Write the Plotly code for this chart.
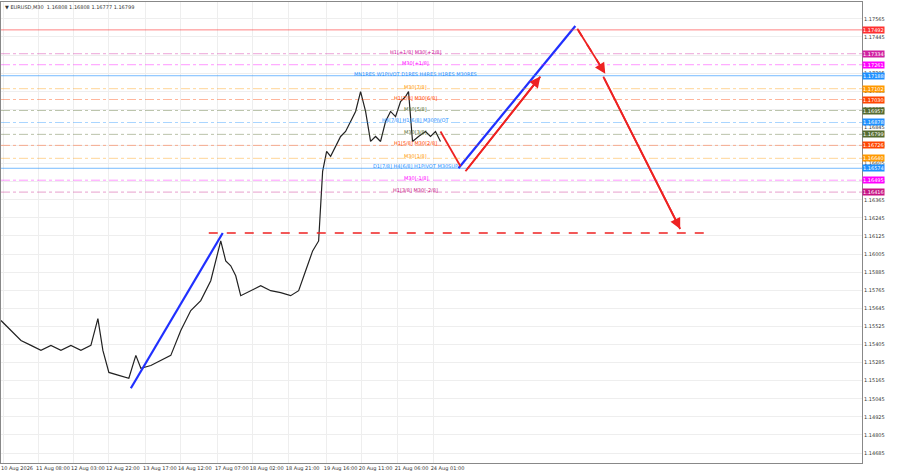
import numpy as np
import plotly.graph_objects as go

# price path (bar index, price)
bars = [0, 10, 20, 30, 40, 50, 60, 70, 80, 90, 97, 102, 108, 118, 128, 135, 140, 150, 160, 170,
        180, 190, 200, 210, 220, 225, 230, 235, 240, 250, 260, 270, 280, 290, 298, 305, 312, 318,
        322, 326, 330, 340, 345, 350, 355, 360, 365, 370, 375, 380, 385, 390, 395, 400, 405, 408,
        412, 418, 425, 430, 435, 440]
close = [1.15564, 1.15498, 1.15432, 1.15399, 1.15366, 1.15399, 1.15366, 1.15399, 1.15366, 1.15399,
         1.15577, 1.15366, 1.15220, 1.15200, 1.15181, 1.15333, 1.15247, 1.15266, 1.15299, 1.15333,
         1.15498, 1.15630, 1.15696, 1.15828, 1.16092, 1.15960, 1.15927, 1.15861, 1.15729, 1.15762,
         1.15795, 1.15762, 1.15749, 1.15729, 1.15762, 1.15894, 1.16026, 1.16092, 1.16554, 1.16686,
         1.16653, 1.16785, 1.16818, 1.16884, 1.16951, 1.17083, 1.16951, 1.16752, 1.16785, 1.16752,
         1.16884, 1.16951, 1.16917, 1.17017, 1.17050, 1.17083, 1.16752, 1.16785, 1.16818, 1.16785,
         1.16818, 1.16752]

level_prices = [1.17492, 1.17334, 1.17261, 1.17188, 1.17102, 1.17030, 1.16957, 1.16878,
                1.16799, 1.16726, 1.16640, 1.16574, 1.16495, 1.16416]
level_colors = ["#ff3030", "#d020a0", "#ff00ff", "#1e90ff", "#ff9900", "#ff4500", "#556b2f",
                "#1e90ff", "#556b2f", "#ff4500", "#ff9900", "#1e90ff", "#ff00ff", "#c71585"]
level_solid = [True, False, False, True, False, False, False, False, False, False, False, True,
               False, False]
level_texts = ["", "H1[+1/8] M30[+2/8]", "M30[+1/8]", "MN1RES W1PIVOT D1RES H4RES H1RES M30RES",
               "M30[7/8]", "H1[7/8] M30[6/8]", "M30[5/8]", "H4[7/8] H1[6/8] M30PIVOT",
               "M30[3/8]", "H1[5/8] M30[2/8]", "M30[1/8]", "D1[7/8] H4[6/8] H1PIVOT M30SUP",
               "M30[-1/8]", "H1[3/8] M30[-2/8]"]

tick_pos = [2, 38, 73, 108, 145, 180, 217, 252, 288, 326, 361, 397, 433]
tick_text = ["10 Aug 2026", "11 Aug 08:00", "12 Aug 03:00", "12 Aug 22:00", "13 Aug 17:00",
             "14 Aug 12:00", "17 Aug 07:00", "18 Aug 02:00", "18 Aug 21:00", "19 Aug 16:00",
             "20 Aug 11:00", "21 Aug 06:00", "24 Aug 01:00"]

blue_lines = [([130, 222], [1.15115, 1.16145]), ([458, 575], [1.16574, 1.17518])]
red_lines = [([440, 460], [1.16818, 1.16587], "solid", False),
             ([465, 540], [1.16554, 1.17182], "solid", True),
             ([577, 605], [1.17499, 1.17201], "dash", True),
             ([603, 680], [1.17182, 1.16171], "solid", True)]
support_x = [208, 705]
support_y = [1.16145, 1.16145]

X_MAX = 862
Y_MIN, Y_MAX = 1.14619, 1.17677

fig = go.Figure()
fig.add_trace(go.Scatter(x=bars, y=close, mode="lines", line=dict(color="#222", width=1.2),
                         hoverinfo="skip"))

for p, c, s, t in zip(level_prices, level_colors, level_solid, level_texts):
    fig.add_hline(y=p, line=dict(color=c, width=1 if s else 0.8, dash="solid" if s else "dashdot"),
                  opacity=0.6 if s else 0.5)
    if t:
        fig.add_annotation(x=415, y=p, text=t, showarrow=False, font=dict(size=5, color=c),
                           yshift=2)
    fig.add_annotation(xref="paper", x=1.0, y=p, text=f"{p:.5f}", showarrow=False, xanchor="left",
                       bgcolor=c, font=dict(size=5, color="white"), borderpad=0)

fig.add_trace(go.Scatter(x=support_x, y=support_y, mode="lines",
                         line=dict(color="#ee2222", width=1.6, dash="dash"), hoverinfo="skip"))
for xs, ys in blue_lines:
    fig.add_trace(go.Scatter(x=xs, y=ys, mode="lines", line=dict(color="#2030ff", width=2.2),
                             hoverinfo="skip"))
for xs, ys, d, arrow in red_lines:
    fig.add_trace(go.Scatter(x=xs, y=ys, mode="lines", line=dict(color="#ee2222", width=1.8, dash=d),
                             hoverinfo="skip"))
    if arrow:
        fig.add_annotation(x=xs[1], y=ys[1], ax=xs[0], ay=ys[0], axref="x", ayref="y",
                           showarrow=True, arrowhead=2, arrowsize=1.2, arrowwidth=1.8,
                           arrowcolor="#ee2222", text="")

fig.add_annotation(xref="paper", yref="paper", x=0.002, y=1.0, xanchor="left", yanchor="top",
                   text="▼ EURUSD,M30  1.16808 1.16808 1.16777 1.16799", showarrow=False,
                   font=dict(size=5, color="#333"))

fig.update_xaxes(range=[0, X_MAX], tickvals=tick_pos, ticktext=tick_text, showgrid=True,
                 gridcolor="#eeeeee", tickfont=dict(size=5, color="#333"), showline=True,
                 linecolor="#888", mirror=True, zeroline=False, ticks="", tickangle=0,
                 automargin=False, ticklabelshift=14)
fig.update_yaxes(range=[Y_MIN, Y_MAX], side="right", tickvals=np.arange(1.14685, 1.1757, 0.0012),
                 tickformat=".5f", showgrid=True, gridcolor="#eeeeee",
                 tickfont=dict(size=5, color="#333"), showline=True, linecolor="#888",
                 mirror=True, zeroline=False, automargin=False)
fig.update_layout(width=900, height=474, margin=dict(l=1, r=38, t=2, b=11), showlegend=False,
                  plot_bgcolor="white", paper_bgcolor="white", font=dict(family="DejaVu Sans"))
fig.write_html("out.html", config={"displayModeBar": False},
               post_script="document.body.style.margin='0';")
